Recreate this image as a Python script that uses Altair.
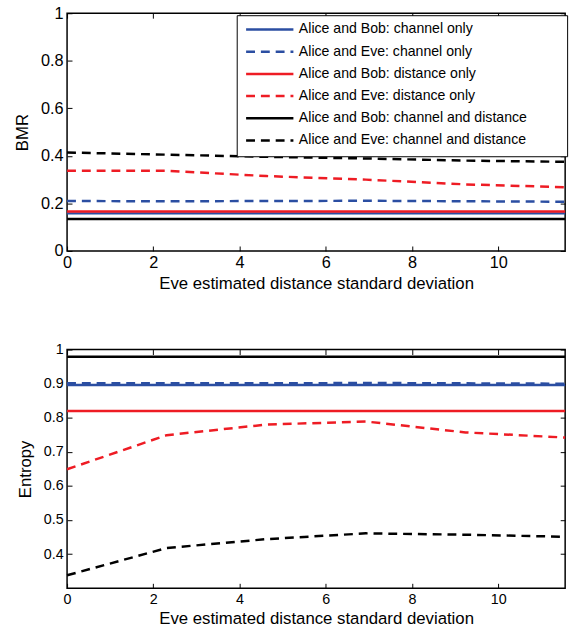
import altair as alt
import pandas as pd

sigma = [0.0, 2.31, 4.62, 6.93, 9.24, 11.55]

series_names = [
    "Alice and Bob: channel only",
    "Alice and Eve: channel only",
    "Alice and Bob: distance only",
    "Alice and Eve: distance only",
    "Alice and Bob: channel and distance",
    "Alice and Eve: channel and distance",
]
series_colors = ["#2b4ea2", "#2b4ea2", "#ee1c24", "#ee1c24", "#000000", "#000000"]
series_dash = [[1, 0], [9, 6], [1, 0], [9, 6], [1, 0], [9, 6]]

# BMR (top panel)
bmr_ab_channel = [0.158, 0.158, 0.158, 0.158, 0.158, 0.158]
bmr_ae_channel = [0.210, 0.209, 0.210, 0.211, 0.209, 0.207]
bmr_ab_distance = [0.166, 0.166, 0.166, 0.166, 0.166, 0.166]
bmr_ae_distance = [0.337, 0.337, 0.315, 0.300, 0.280, 0.268]
bmr_ab_both = [0.134, 0.134, 0.134, 0.134, 0.134, 0.134]
bmr_ae_both = [0.414, 0.405, 0.396, 0.389, 0.380, 0.375]

# Entropy (bottom panel)
ent_ab_channel = [0.896, 0.896, 0.896, 0.896, 0.896, 0.896]
ent_ae_channel = [0.901, 0.901, 0.901, 0.902, 0.901, 0.900]
ent_ab_distance = [0.820, 0.820, 0.820, 0.820, 0.820, 0.820]
ent_ae_distance = [0.649, 0.749, 0.780, 0.789, 0.757, 0.742]
ent_ab_both = [0.979, 0.979, 0.979, 0.979, 0.979, 0.979]
ent_ae_both = [0.338, 0.418, 0.444, 0.461, 0.457, 0.451]

bmr_values = [bmr_ab_channel, bmr_ae_channel, bmr_ab_distance,
              bmr_ae_distance, bmr_ab_both, bmr_ae_both]
ent_values = [ent_ab_channel, ent_ae_channel, ent_ab_distance,
              ent_ae_distance, ent_ab_both, ent_ae_both]


def make_df(values):
    rows = []
    for name, vals in zip(series_names, values):
        for s, v in zip(sigma, vals):
            rows.append({"sigma": s, "value": v, "series": name})
    return pd.DataFrame(rows)


df_bmr = make_df(bmr_values)
df_ent = make_df(ent_values)

FONT = "Liberation Sans"
X_TITLE = "Eve estimated distance standard deviation"
W = 505

# trailing blank room inside the legend box (MATLAB-style wide legend)
LEGEND_PAD = "\u00a0" * 8 + "\u200b"


def panel(df, ytitle, ydomain, yticks, height, tick_font, show_legend):
    xscale = alt.Scale(domain=[0, 11.55], nice=False, zero=False)
    yscale = alt.Scale(domain=ydomain, nice=False, zero=False)
    if show_legend:
        legend = alt.Legend(
            title=None, orient="none", legendX=172, legendY=2,
            symbolType="stroke", symbolSize=2300, symbolStrokeWidth=2.5,
            clipHeight=13,
            labelFont=FONT, labelFontSize=14.3, labelColor="black",
            labelExpr=f"datum.label + '{LEGEND_PAD}'",
            strokeColor="black", fillColor="white", padding=8,
            rowPadding=7.5, labelOffset=4, labelLimit=500,
        )
    else:
        legend = None
    main = alt.Chart(df).mark_line(strokeWidth=2.5).encode(
        x=alt.X("sigma:Q", scale=xscale, title=X_TITLE,
                axis=alt.Axis(orient="bottom", values=[0, 2, 4, 6, 8, 10],
                              format="d", domain=False, offset=-5,
                              tickSize=5, tickColor="black",
                              labelFlush=False,
                              labelPadding=4, labelFontSize=tick_font,
                              labelFont=FONT, labelColor="black",
                              titleFont=FONT, titleFontSize=17,
                              titleFontWeight="normal", titleColor="black",
                              titlePadding=5, grid=False)),
        y=alt.Y("value:Q", scale=yscale, title=ytitle,
                axis=alt.Axis(orient="left", values=yticks, format="~g",
                              domain=False, offset=-5, tickSize=5,
                              labelFlush=False,
                              tickColor="black", labelPadding=4,
                              labelFontSize=tick_font, labelFont=FONT,
                              labelColor="black", titleFont=FONT,
                              titleFontSize=17, titleFontWeight="normal",
                              titleColor="black", titlePadding=9,
                              grid=False)),
        color=alt.Color("series:N",
                        scale=alt.Scale(domain=series_names,
                                        range=series_colors),
                        legend=legend),
        strokeDash=alt.StrokeDash("series:N",
                                  scale=alt.Scale(domain=series_names,
                                                  range=series_dash),
                                  legend=legend),
    )
    mirror = alt.Chart(df).mark_line(strokeOpacity=0).encode(
        x=alt.X("sigma:Q", scale=xscale, title=None,
                axis=alt.Axis(orient="top", values=[0, 2, 4, 6, 8, 10],
                              labels=False, domain=False, offset=-5,
                              tickSize=5, tickColor="black", grid=False)),
        y=alt.Y("value:Q", scale=yscale, title=None,
                axis=alt.Axis(orient="right", values=yticks, labels=False,
                              domain=False, offset=-5, tickSize=5,
                              tickColor="black", grid=False)),
        detail="series:N",
    )
    return alt.layer(main, mirror).resolve_axis(
        x="independent", y="independent"
    ).properties(width=W, height=height)


top = panel(df_bmr, "BMR", [0, 1], [0, 0.2, 0.4, 0.6, 0.8, 1],
            241, 16.5, True)
bottom = panel(df_ent, "Entropy", [0.3, 1],
               [0.4, 0.5, 0.6, 0.7, 0.8, 0.9, 1], 242, 14.5, False)

chart = alt.vconcat(top, bottom, spacing=48).resolve_legend(
    color="independent", strokeDash="independent"
).resolve_scale(
    color="independent", strokeDash="independent"
).properties(
    padding={"left": 13, "top": 0, "right": 5, "bottom": 5},
    background="white",
).configure_view(
    stroke="black", strokeWidth=1.5
)

chart.save("out.html", embed_options={"renderer": "svg", "actions": False})
